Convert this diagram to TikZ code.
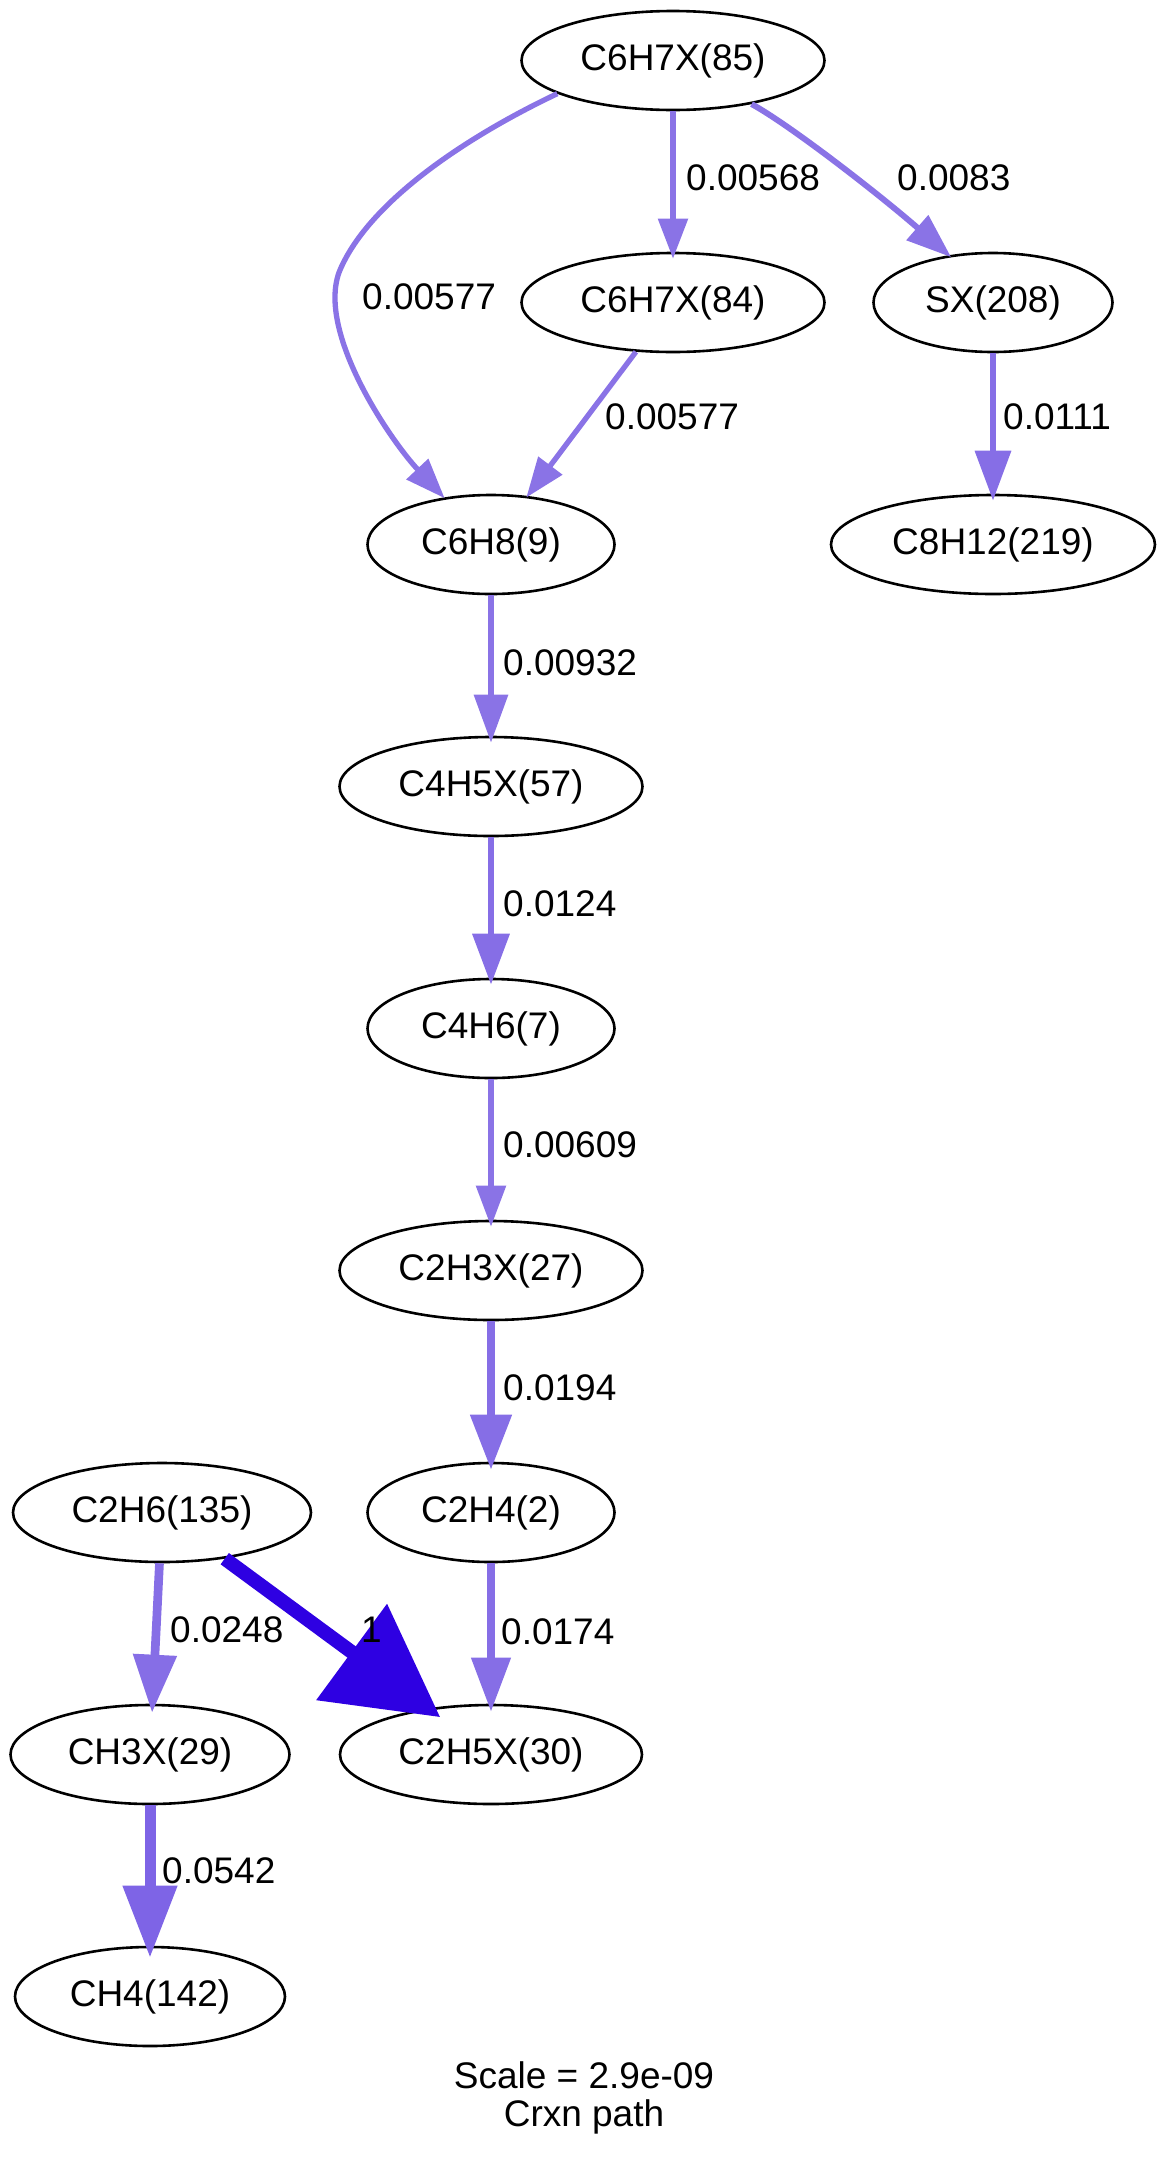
\documentclass[tikz,border=0pt]{standalone}
\usepackage{fontspec}
\setmainfont{Liberation Sans}
\usetikzlibrary{arrows.meta,shapes.geometric}
\definecolor{eA}{RGB}{138,115,230}
\definecolor{eB}{RGB}{134,110,230}
\definecolor{eC}{RGB}{126,100,230}
\definecolor{eD}{RGB}{46,0,226}
\tikzset{
  species/.style={draw, ellipse, line width=2.6pt, inner sep=0pt, minimum height=99pt, font=\fontsize{37}{44}\selectfont},
  elabel/.style={anchor=west, inner sep=0pt, font=\fontsize{37}{44}\selectfont},
  flow/.style n args={5}{draw=#4, line width=#1, -{Triangle[length=#2, width=#3]}, shorten >=#5},
}
\begin{document}
\begin{tikzpicture}[x=1pt, y=-1pt]
\useasboundingbox (0,0) rectangle (1168,2161);
% nodes
\node[species, minimum width=303pt] (n85) at (673,60.5) {C6H7X(85)};
\node[species, minimum width=303pt] (n84) at (673,302.5) {C6H7X(84)};
\node[species, minimum width=239pt] (sx) at (993,302.5) {SX(208)};
\node[species, minimum width=247pt] (c6h8) at (491,544.5) {C6H8(9)};
\node[species, minimum width=324pt] (c8h12) at (993,544.5) {C8H12(219)};
\node[species, minimum width=303pt] (c4h5x) at (491,786.5) {C4H5X(57)};
\node[species, minimum width=247pt] (c4h6) at (491,1028.5) {C4H6(7)};
\node[species, minimum width=303pt] (c2h3x) at (491,1270.5) {C2H3X(27)};
\node[species, minimum width=247pt] (c2h4) at (491,1512.5) {C2H4(2)};
\node[species, minimum width=298pt] (c2h6) at (162,1512.5) {C2H6(135)};
\node[species, minimum width=279pt] (ch3x) at (150,1754.5) {CH3X(29)};
\node[species, minimum width=302pt] (c2h5x) at (491,1754.5) {C2H5X(30)};
\node[species, minimum width=270pt] (ch4) at (150,1996.5) {CH4(142)};
% edges
\draw[flow={5.3pt}{40pt}{29pt}{eA}{-1pt}] (n85.196) .. controls (470,135) and (370,200) .. (340,270) .. controls (315,330) and (390,440) .. (c6h8.135);
\draw[flow={5.3pt}{40pt}{29pt}{eA}{-7pt}] (n85) -- (n84);
\draw[flow={5.9pt}{45pt}{32pt}{eA}{-3pt}] (n85.331) .. controls (790,125) and (880,195) .. (sx.133);
\draw[flow={5.3pt}{40pt}{29pt}{eA}{-2pt}] (n84) -- (c6h8);
\draw[flow={6.6pt}{50pt}{35pt}{eB}{-7pt}] (sx) -- (c8h12);
\draw[flow={6.1pt}{48pt}{33pt}{eA}{-7pt}] (c6h8) -- (c4h5x);
\draw[flow={6.8pt}{51pt}{36pt}{eB}{-7pt}] (c4h5x) -- (c4h6);
\draw[flow={5.4pt}{41pt}{29pt}{eA}{-7pt}] (c4h6) -- (c2h3x);
\draw[flow={8pt}{55pt}{40pt}{eB}{-8pt}] (c2h3x) -- (c2h4);
\draw[flow={8.7pt}{58pt}{42pt}{eB}{-9pt}] (c2h6) -- (ch3x);
\draw[flow={14pt}{110pt}{116pt}{eD}{-15pt}] (c2h6) -- (c2h5x);
\draw[flow={7.6pt}{54pt}{38pt}{eB}{-8pt}] (c2h4) -- (c2h5x);
\draw[flow={11pt}{72pt}{52pt}{eC}{-12pt}] (ch3x) -- (ch4);
% edge labels
\node[elabel] (l1) at (362,297) {0.00577};
\node[elabel] (l2) at (686,178) {0.00568};
\node[elabel] (l3) at (897,178) {0.0083};
\node[elabel] (l4) at (605,417) {0.00577};
\node[elabel] (l5) at (1003,417) {0.0111};
\node[elabel] (l6) at (503,663) {0.00932};
\node[elabel] (l7) at (503,904) {0.0124};
\node[elabel] (l8) at (503,1145) {0.00609};
\node[elabel] (l9) at (503,1388) {0.0194};
\node[elabel] (l10) at (170,1630) {0.0248};
\node[elabel] (l11) at (361,1630) {1};
\node[elabel] (l12) at (501,1632) {0.0174};
\node[elabel] (l13) at (162,1871) {0.0542};
% graph label
\node[anchor=base, inner sep=0pt, font=\fontsize{37}{44}\selectfont] (scale) at (584,2088) {Scale = 2.9e-09};
\node[anchor=base, inner sep=0pt, font=\fontsize{37}{44}\selectfont] (crxn) at (584,2126) {Crxn path};
\end{tikzpicture}
\end{document}
